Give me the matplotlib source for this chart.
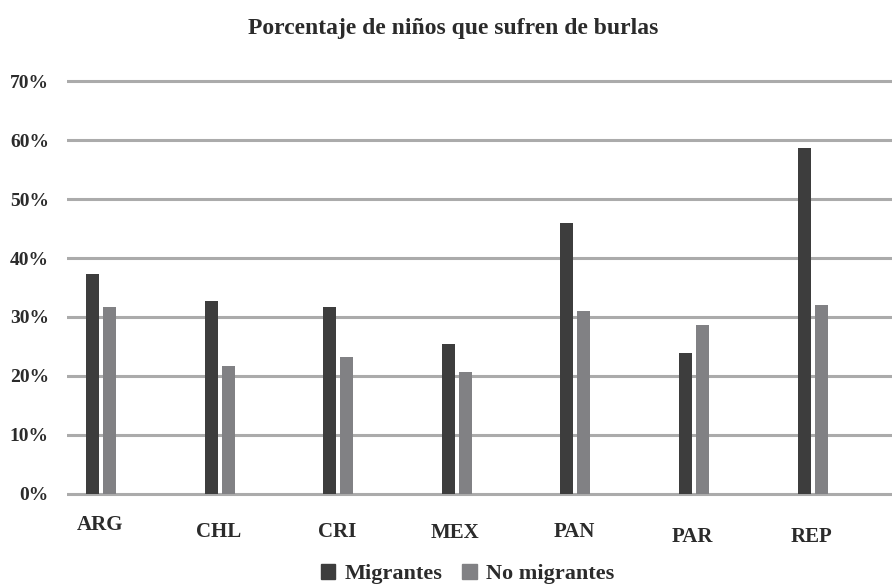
import matplotlib
matplotlib.use('Agg')
import matplotlib.pyplot as plt
import matplotlib.transforms as mtransforms
from matplotlib.patches import Patch
import numpy as np

countries = ['ARG', 'CHL', 'CRI', 'MEX', 'PAN', 'PAR', 'REP']
migrantes = [37.3, 32.7, 31.7, 25.4, 45.9, 23.9, 58.6]
no_migrantes = [31.7, 21.7, 23.2, 20.7, 31.0, 28.6, 32.0]
y_ticks = [0, 10, 20, 30, 40, 50, 60, 70]
y_tick_labels = ['0%', '10%', '20%', '30%', '40%', '50%', '60%', '70%']

# the source staggers the category labels vertically (in points)
label_drop = [0, 5, 5, 6, 5, 9, 9]

dark = '#3d3d3d'
light = '#818184'
grid_color = '#ababab'
text_color = '#2b2b2b'

plt.rcParams['font.family'] = ['Liberation Serif', 'DejaVu Serif']
plt.rcParams['font.weight'] = 'bold'

fig = plt.figure(figsize=(8.92, 5.86), dpi=100)
ax = fig.add_axes([0.0751, 0.152, 0.9249, 0.7198])

x = np.arange(len(countries))
w = 0.11
off = 0.0717
ax.bar(x - off, migrantes, width=w, color=dark, zorder=3, label='Migrantes')
ax.bar(x + off, no_migrantes, width=w, color=light, zorder=3, label='No migrantes')

ax.set_xlim(-0.287, 6.67)
ax.set_ylim(-0.5, 71)
ax.set_yticks(y_ticks)
ax.set_yticklabels(y_tick_labels)
ax.yaxis.grid(True, color=grid_color, linewidth=2.2, zorder=0)
for s in ax.spines.values():
    s.set_visible(False)
ax.tick_params(axis='y', length=0, pad=13, labelsize=14, labelcolor=text_color)
ax.tick_params(axis='x', length=0, pad=13, labelsize=15, labelcolor=text_color)

ax.set_xticks(x)
ax.set_xticklabels(countries)
for lab, d in zip(ax.get_xticklabels(), label_drop):
    lab.set_transform(lab.get_transform() +
                      mtransforms.ScaledTranslation(-1 / 72, -d / 72, fig.dpi_scale_trans))

fig.text(0.508, 0.951, 'Porcentaje de niños que sufren de burlas',
         ha='center', va='center', fontsize=17, color=text_color, fontweight='bold')

handles = [Patch(color=dark), Patch(color=light)]
fig.legend(handles, ['Migrantes', 'No migrantes'], loc='center',
           bbox_to_anchor=(0.524, 0.02), ncol=2, frameon=False,
           prop={'size': 16, 'weight': 'bold'}, labelcolor=text_color,
           handlelength=0.65, handleheight=0.65, handletextpad=0.4,
           columnspacing=0.9, borderpad=0)

fig.savefig('out.png', dpi=100, facecolor='white')
